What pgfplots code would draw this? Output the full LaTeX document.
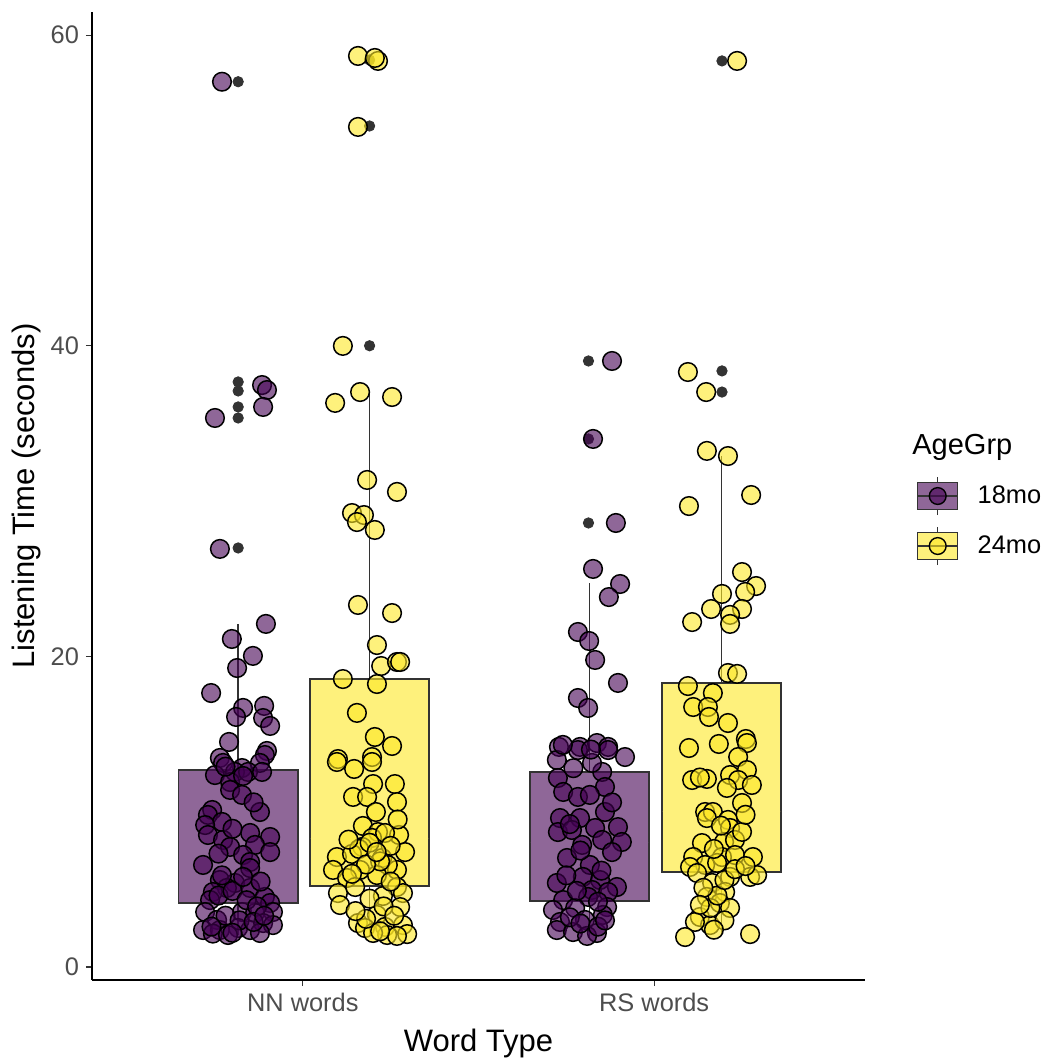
\documentclass[border=0pt]{standalone}
\usepackage{fontspec}
\setmainfont{Liberation Sans}
\usepackage{pgfplots}
\pgfplotsset{compat=1.18}
\usepgfplotslibrary{statistics}
\definecolor{c18}{HTML}{440154}
\definecolor{c24}{HTML}{FDE725}
\definecolor{c18box}{HTML}{8F6798}
\definecolor{c24box}{HTML}{FEF17C}
\definecolor{tickgray}{HTML}{4D4D4D}
\definecolor{dk}{HTML}{333333}

\pgfplotstableread{
x y
0.770 57.00
0.884 37.47
0.898 37.15
0.887 36.06
0.750 35.35
0.764 26.92
0.895 22.09
0.798 21.12
0.858 20.03
0.813 19.25
0.739 17.64
0.830 16.68
0.890 16.81
0.810 16.10
0.887 16.03
0.907 15.52
0.790 14.49
0.898 13.91
0.764 13.46
0.892 13.65
0.773 13.14
0.878 13.14
0.827 12.81
0.807 12.56
0.844 12.56
0.884 12.56
0.750 12.36
0.793 11.91
0.793 11.40
0.827 11.08
0.878 9.98
0.742 10.11
0.730 9.79
0.770 9.34
0.722 9.14
0.850 8.63
0.907 8.37
0.730 8.50
0.773 8.18
0.793 7.73
0.864 7.86
0.907 7.40
0.830 7.21
0.850 6.76
0.716 6.57
0.850 6.37
0.764 5.60
0.807 5.41
0.850 5.09
0.784 5.09
0.744 4.83
0.892 4.51
0.907 4.12
0.915 3.54
0.736 4.31
0.722 3.54
0.827 3.54
0.864 3.48
0.756 3.03
0.716 2.38
0.764 2.38
0.816 2.51
0.850 2.38
0.887 2.83
0.915 2.70
0.744 2.15
0.878 2.19
0.787 2.06
0.760 4.60
0.800 4.90
0.840 4.30
0.870 3.90
0.780 3.30
0.820 3.00
0.860 2.90
0.800 2.20
0.740 2.60
0.890 3.30
0.770 5.90
0.830 5.80
0.880 5.50
0.760 7.30
0.800 8.90
0.860 10.60
0.780 12.90
0.830 12.30
}\nnA

\pgfplotstableread{
x y
1.157 58.66
1.214 58.34
1.205 58.53
1.157 54.09
1.114 39.99
1.163 37.02
1.092 36.32
1.254 36.70
1.183 31.36
1.268 30.59
1.140 29.23
1.174 29.10
1.154 28.65
1.205 28.14
1.157 23.31
1.254 22.79
1.211 20.73
1.223 19.38
1.268 19.64
1.277 19.64
1.114 18.54
1.211 18.22
1.154 16.36
1.205 14.81
1.254 14.23
1.100 13.39
1.197 13.52
1.146 12.75
1.097 13.20
1.197 13.20
1.200 11.78
1.262 11.78
1.143 10.95
1.183 10.95
1.268 10.62
1.208 9.98
1.171 9.08
1.214 8.69
1.274 8.50
1.197 8.31
1.234 8.63
1.169 7.73
1.291 7.40
1.097 7.08
1.140 7.28
1.226 7.02
1.086 6.25
1.163 6.25
1.268 6.25
1.242 6.57
1.126 5.73
1.211 5.92
1.268 5.15
1.100 4.76
1.149 5.15
1.228 4.57
1.285 4.76
1.106 3.99
1.277 3.86
1.211 3.35
1.157 2.83
1.177 2.51
1.234 2.58
1.285 2.70
1.240 2.06
1.297 2.12
1.200 2.19
1.268 2.00
1.160 7.60
1.190 8.00
1.250 7.80
1.130 8.20
1.220 6.80
1.180 6.60
1.140 6.00
1.250 5.50
1.190 4.40
1.230 3.90
1.260 3.30
1.180 3.10
1.220 2.30
1.150 3.60
1.210 7.40
1.270 9.50
}\nnB

\pgfplotstableread{
x y
1.880 39.02
1.826 34.00
1.891 28.59
1.826 25.63
1.903 24.66
1.871 23.82
1.783 21.57
1.815 20.99
1.832 19.77
1.897 18.29
1.783 17.32
1.812 16.68
1.729 14.17
1.789 14.17
1.837 14.42
1.869 14.17
1.783 13.97
1.869 13.97
1.917 13.52
1.723 13.33
1.852 12.56
1.823 13.14
1.726 12.17
1.860 11.59
1.741 11.27
1.783 10.95
1.817 11.08
1.732 9.59
1.789 9.59
1.860 9.98
1.832 8.95
1.897 9.01
1.726 8.69
1.766 8.82
1.852 8.18
1.908 8.05
1.795 7.86
1.752 7.02
1.817 6.57
1.797 5.80
1.846 5.60
1.723 5.41
1.823 4.96
1.894 5.15
1.869 4.83
1.741 4.31
1.812 4.51
1.712 3.67
1.775 3.80
1.866 3.86
1.732 2.90
1.803 3.03
1.854 3.35
1.723 2.38
1.769 2.25
1.837 2.19
1.809 2.00
1.760 3.20
1.790 2.80
1.840 2.60
1.860 3.00
1.780 4.90
1.840 4.20
1.750 5.90
1.850 6.20
1.790 7.50
1.880 7.40
1.760 9.20
1.880 10.60
1.770 12.80
1.820 14.00
1.740 14.30
}\rsA

\pgfplotstableread{
x y
2.236 58.34
2.096 38.31
2.148 37.02
2.150 33.23
2.210 32.90
2.276 30.39
2.099 29.68
2.250 25.43
2.290 24.53
2.193 24.02
2.259 24.15
2.162 23.05
2.250 23.05
2.216 22.67
2.108 22.21
2.216 22.09
2.210 18.93
2.236 18.87
2.096 18.09
2.167 17.64
2.111 16.74
2.153 16.74
2.156 16.10
2.210 15.71
2.261 14.68
2.099 14.10
2.184 14.36
2.264 14.42
2.239 13.52
2.108 12.04
2.150 12.11
2.216 12.36
2.264 12.68
2.239 12.04
2.278 11.72
2.207 11.53
2.250 10.56
2.145 9.98
2.167 9.98
2.210 9.47
2.216 8.95
2.150 9.59
2.136 7.98
2.199 8.05
2.230 8.18
2.111 7.08
2.145 6.57
2.193 7.08
2.230 7.21
2.281 7.08
2.102 6.44
2.122 6.05
2.179 6.70
2.216 5.80
2.273 5.80
2.293 5.92
2.165 5.41
2.202 4.83
2.150 4.51
2.187 4.12
2.216 3.80
2.130 3.22
2.159 2.70
2.116 2.90
2.088 1.93
2.273 2.12
2.160 3.80
2.180 4.60
2.200 5.60
2.140 5.10
2.230 6.30
2.260 6.50
2.170 7.60
2.250 8.70
2.190 9.10
2.130 4.00
2.200 3.00
2.170 2.40
2.260 9.80
2.130 12.20
}\rsB

\pgfplotstableread{
x y
0.816 57.00
0.816 37.67
0.816 37.09
0.816 36.06
0.816 35.35
0.816 26.98
1.190 58.40
1.190 54.15
1.190 40.00
1.813 39.02
1.813 34.00
1.813 28.59
2.193 58.34
2.193 38.38
2.193 37.02
}\outl

\begin{document}
\begin{tikzpicture}
\begin{axis}[
  name=main, at={(0,0)}, anchor=south west,
  scale only axis, width=386.5pt, height=484pt,
  xmin=0.4, xmax=2.6, ymin=-0.837, ymax=61.49,
  axis x line*=bottom, axis y line*=left,
  axis line style={black, line width=0.9pt},
  xtick={1,2}, xticklabels={NN words, RS words},
  ytick={0,20,40,60},
  tick pos=left, tick align=outside,
  major tick length=3pt,
  tick style={dk, line width=0.6pt},
  ticklabel style={font=\fontsize{12.7}{14}\selectfont, text=tickgray},
  /pgf/number format/assume math mode=true,
  xlabel={Word Type}, ylabel={Listening Time (seconds)},
  label style={font=\fontsize{15.5}{17}\selectfont},
  xlabel style={at={(axis description cs:0.5,-0.0651)}, anchor=center},
  ylabel style={at={(axis description cs:-0.0841,0.5)}, anchor=center},
  boxplot/draw direction=y,
  legend style={at={(axis description cs:1.0673,0.5258)}, anchor=north west,
    draw=none, fill=none, inner sep=0pt, outer sep=0pt, row sep=0pt,
    font=\fontsize{12.7}{14}\selectfont, nodes={inner sep=0pt},
    /tikz/every even column/.append style={column sep=0pt}},
  legend cell align=left,
]
\addlegendimage{legend image code/.code={
  \path[draw=none, fill=none] (0pt,-12.5pt) rectangle (30pt,12.5pt);
  \draw[dk, line width=0.7pt] (10pt,-9.5pt) -- (10pt,-6.75pt);
  \draw[dk, line width=0.7pt] (10pt,6.75pt) -- (10pt,9.5pt);
  \draw[dk, line width=0.7pt, fill=c18box] (0pt,-6.75pt) rectangle (20pt,6.75pt);
  \draw[dk, line width=0.7pt] (0pt,0pt) -- (20pt,0pt);
  \draw[black, line width=0.7pt, fill=c18, fill opacity=0.6] (10pt,0pt) circle (4.2pt);
}}
\addlegendentry{18mo}
\addlegendimage{legend image code/.code={
  \path[draw=none, fill=none] (0pt,-12.5pt) rectangle (30pt,12.5pt);
  \draw[dk, line width=0.7pt] (10pt,-9.5pt) -- (10pt,-6.75pt);
  \draw[dk, line width=0.7pt] (10pt,6.75pt) -- (10pt,9.5pt);
  \draw[dk, line width=0.7pt, fill=c24box] (0pt,-6.75pt) rectangle (20pt,6.75pt);
  \draw[dk, line width=0.7pt] (0pt,0pt) -- (20pt,0pt);
  \draw[black, line width=0.7pt, fill=c24, fill opacity=0.6] (10pt,0pt) circle (4.2pt);
}}
\addlegendentry{24mo}

% boxes
\addplot[boxplot prepared={draw position=0.816, lower whisker=2.06, lower quartile=4.12,
  median=6.9, upper quartile=12.68, upper whisker=22.1, box extend=0.339, whisker extend=0,
  every median/.style={draw opacity=0}},
  draw=dk, line width=0.8pt, fill=c18box] coordinates {};
\addplot[boxplot prepared={draw position=1.190, lower whisker=1.93, lower quartile=5.22,
  median=8.3, upper quartile=18.55, upper whisker=37.0, box extend=0.339, whisker extend=0,
  every median/.style={draw opacity=0}},
  draw=dk, line width=0.8pt, fill=c24box] coordinates {};
\addplot[boxplot prepared={draw position=1.816, lower whisker=1.93, lower quartile=4.25,
  median=8.0, upper quartile=12.56, upper whisker=24.7, box extend=0.339, whisker extend=0,
  every median/.style={draw opacity=0}},
  draw=dk, line width=0.8pt, fill=c18box] coordinates {};
\addplot[boxplot prepared={draw position=2.192, lower whisker=2.06, lower quartile=6.1,
  median=10.0, upper quartile=18.3, upper whisker=32.9, box extend=0.339, whisker extend=0,
  every median/.style={draw opacity=0}},
  draw=dk, line width=0.8pt, fill=c24box] coordinates {};

% outliers
\addplot[only marks, mark=*, mark size=2.6pt, mark options={draw=dk, fill=dk}] table {\outl};

% jittered points
\addplot[only marks, mark=*, mark size=4.65pt, mark options={draw=black, line width=0.75pt, fill=c18, fill opacity=0.6}] table {\nnA};
\addplot[only marks, mark=*, mark size=4.65pt, mark options={draw=black, line width=0.75pt, fill=c24, fill opacity=0.6}] table {\nnB};
\addplot[only marks, mark=*, mark size=4.65pt, mark options={draw=black, line width=0.75pt, fill=c18, fill opacity=0.6}] table {\rsA};
\addplot[only marks, mark=*, mark size=4.65pt, mark options={draw=black, line width=0.75pt, fill=c24, fill opacity=0.6}] table {\rsB};
\end{axis}
\node[anchor=west, inner sep=0pt, font=\fontsize{14.5}{16}\selectfont] at ([xshift=23.5pt,yshift=266.5pt]main.south east) {AgeGrp};
\pgfresetboundingbox
\useasboundingbox (-46pt,-40.5pt) rectangle (476.5pt,490pt);
\end{tikzpicture}
\end{document}
